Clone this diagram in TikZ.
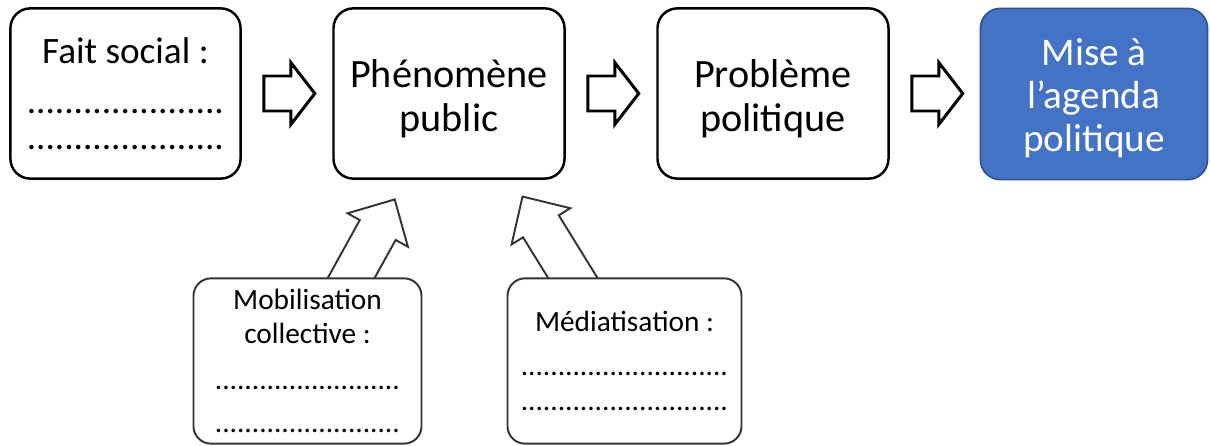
\documentclass[tikz,border=0pt]{standalone}
\usepackage{fontspec}
\setmainfont{Carlito}
\usetikzlibrary{calc,backgrounds}

\definecolor{agendablue}{HTML}{4472C4}
\definecolor{agendaborder}{HTML}{2F528F}

\tikzset{
  etape/.style={draw=black, line width=1.4pt, rounded corners=11.3pt, fill=white,
    align=center, inner sep=0pt, minimum width=131.5pt, minimum height=96.9pt,
    font=\fontsize{22.9}{25}\selectfont},
  facteur/.style={draw=black!80, line width=1.1pt, rounded corners=10pt, fill=white,
    align=center, inner sep=0pt, minimum height=94.1pt,
    font=\fontsize{16.7}{19.3}\selectfont},
  pics/flechebloc/.style n args={4}{code={
    \path[pic actions] (0,-#3/2) -- (#1-#2,-#3/2) -- (#1-#2,-#4/2) -- (#1,0)
      -- (#1-#2,#4/2) -- (#1-#2,#3/2) -- (0,#3/2) -- cycle;
  }},
}

\begin{document}
\begin{tikzpicture}[x=0.02cm,y=-0.02cm]

  \useasboundingbox (0,0) rectangle (1210,446);

  % les quatre etapes
  \node (fait) [etape, minimum width=131pt, font=\fontsize{21.2}{24}\selectfont] at (125.5,93.5)
    {Fait social :\\[4.3pt] .....................\\[-3.6pt] .....................};
  \node (phenomene) [etape] at (449,93.5) {\rule{0pt}{21.5pt}Phénomène\\public};
  \node (probleme) [etape] at (773,93.5) {\rule{0pt}{21.5pt}Problème\\politique};
  \node (agenda) [etape, draw=agendaborder, line width=0.9pt, fill=agendablue,
    text=white, minimum width=129.3pt, minimum height=97.5pt,
    font=\fontsize{22.3}{24.7}\selectfont] at (1094,94) {\rule{0pt}{20pt}Mise à\\l’agenda\\politique};

  % fleches entre les etapes
  \pic[draw, fill=white, line width=1.7pt] at ($(fait.east)+(22,0)$) {flechebloc={51}{24}{35}{62}};
  \pic[draw, fill=white, line width=1.7pt] at ($(phenomene.east)+(22,0)$) {flechebloc={51}{24}{35}{62}};
  \pic[draw, fill=white, line width=1.7pt] at ($(probleme.east)+(22,0)$) {flechebloc={51}{24}{35}{62}};

  % les deux facteurs
  \node (mobilisation) [facteur, minimum width=129.8pt] at (307.5,361)
    {Mobilisation\\collective :\\[6.8pt] .........................\\[5.6pt] .........................};
  \node (mediatisation) [facteur, minimum width=133.2pt] at (624.5,361)
    {Médiatisation :\\[6.2pt] ............................\\[0.6pt] ............................};

  \begin{pgfonlayer}{background}
    \pic[draw=black!80, fill=white, line width=1.1pt, rotate=61]
      at ($(mobilisation.north)+(32.9,20)$) {flechebloc={112}{35}{41}{69}};
    \pic[draw=black!80, fill=white, line width=1.1pt, rotate=121.7]
      at ($(mediatisation.north)+(-39.7,20)$) {flechebloc={118.5}{35}{42}{69}};
  \end{pgfonlayer}

\end{tikzpicture}
\end{document}
